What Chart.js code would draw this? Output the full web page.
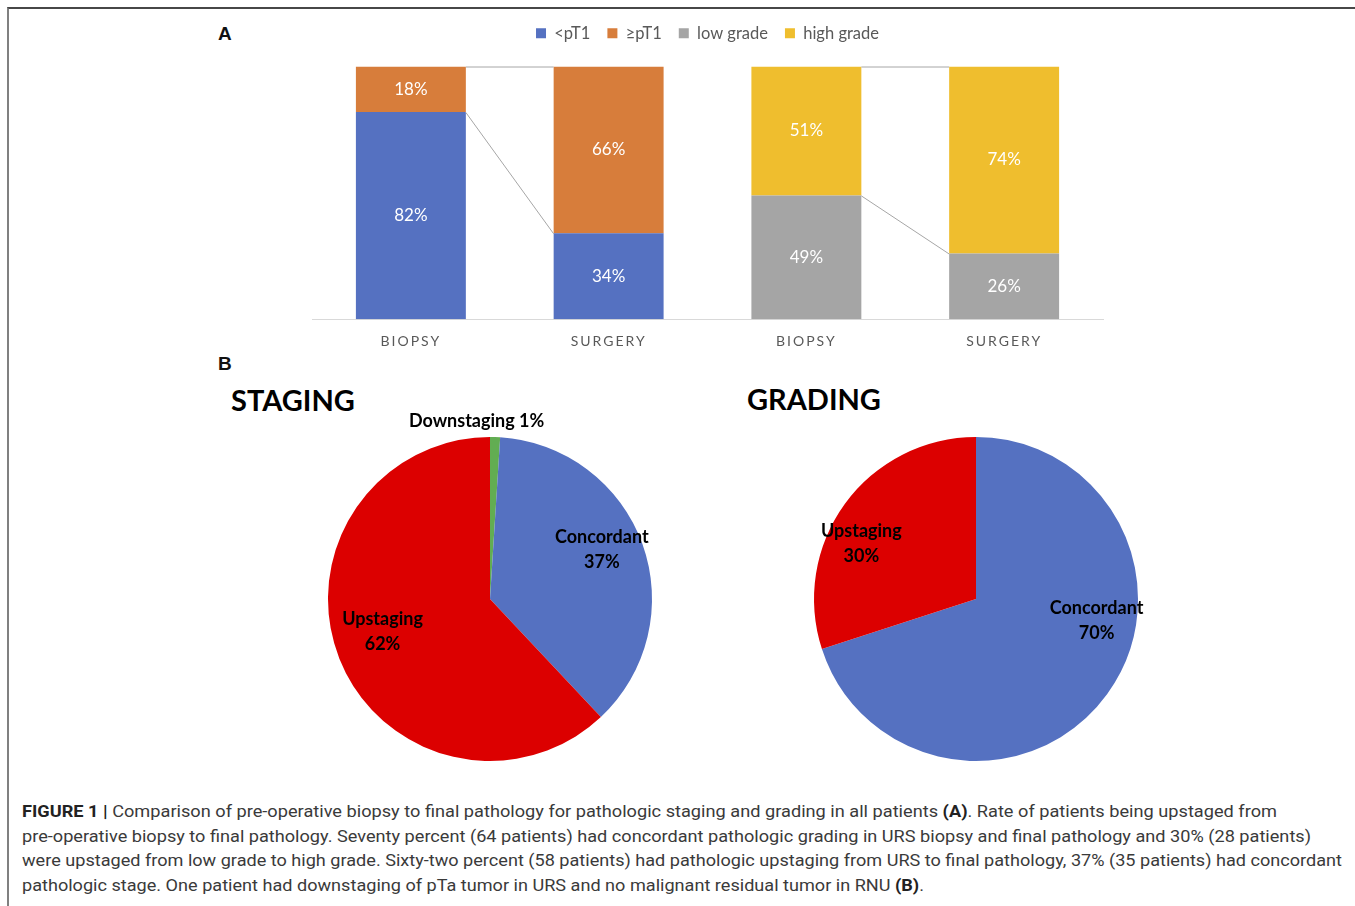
<!DOCTYPE html>
<html>
<head>
<meta charset="utf-8">
<title>Figure 1</title>
<script src="https://cdn.jsdelivr.net/npm/chart.js@4.4.1/dist/chart.umd.min.js"></script>
<style>
  html, body { margin: 0; padding: 0; background: #fff; }
  body { width: 1355px; height: 906px; position: relative; overflow: hidden; font-family: Lato, "Open Sans", sans-serif; }
  .frame { position: absolute; left: 7px; top: 7px; width: 1360px; height: 910px;
           border-top: 2px solid #474747; border-left: 2px solid #808080; }
  canvas { position: absolute; }
  .panel { position: absolute; font-family: "Liberation Sans", Arial, sans-serif; font-weight: bold;
           font-size: 19px; line-height: 1; color: #111; }
  .title { position: absolute; font-family: Lato, sans-serif; font-weight: bold; font-size: 29px;
           line-height: 1; color: #000; }
  .cap { position: absolute; left: 22px; white-space: nowrap;
         font-family: "Liberation Sans Narrow", Roboto, "Liberation Sans", sans-serif;
         font-weight: normal; font-size: 17px; line-height: 1; color: #3a3a3a; transform-origin: 0 50%; }
  .cap b { font-weight: bold; color: #222; }
</style>
</head>
<body>
<div class="frame"></div>

<div class="panel" style="left:218px; top:24px;">A</div>
<div class="panel" style="left:218px; top:354px;">B</div>
<div class="title" style="left:231px; top:385px;">STAGING</div>
<div class="title" style="left:747px; top:384px;">GRADING</div>

<canvas id="bars" width="815" height="366" style="left:300px; top:8px;"></canvas>
<canvas id="staging" width="400" height="400" style="left:290px; top:399px;"></canvas>
<canvas id="grading" width="400" height="400" style="left:776px; top:399px;"></canvas>

<div class="cap" data-w="1255" style="top:803px;"><b>FIGURE 1 |</b> Comparison of pre-operative biopsy to final pathology for pathologic staging and grading in all patients <b>(A)</b>. Rate of patients being upstaged from</div>
<div class="cap" data-w="1289" style="top:828px;">pre-operative biopsy to final pathology. Seventy percent (64 patients) had concordant pathologic grading in URS biopsy and final pathology and 30% (28 patients)</div>
<div class="cap" data-w="1320" style="top:852px;">were upstaged from low grade to high grade. Sixty-two percent (58 patients) had pathologic upstaging from URS to final pathology, 37% (35 patients) had concordant</div>
<div class="cap" data-w="902" style="top:877px;">pathologic stage. One patient had downstaging of pTa tumor in URS and no malignant residual tumor in RNU <b>(B)</b>.</div>

<script>
// ---- Panel A: biopsy vs. surgery, percent of patients ----
const categories = ['BIOPSY', 'SURGERY', 'BIOPSY', 'SURGERY'];
const seriesNames = ['<pT1', '≥pT1', 'low grade', 'high grade'];
const belowPT1 = [82, 34, null, null];
const atLeastPT1 = [18, 66, null, null];
const lowGrade = [null, null, 49, 26];
const highGrade = [null, null, 51, 74];

// ---- Panel B: concordance of biopsy and final pathology ----
const stagingLabels = ['Downstaging', 'Concordant', 'Upstaging'];
const stagingValues = [1, 37, 62];
const gradingLabels = ['Concordant', 'Upstaging'];
const gradingValues = [70, 30];

const COLORS = {
  blue: '#5571C1', orange: '#D77D3B', gray: '#A5A5A5', yellow: '#EFBE2E',
  red: '#DC0000', green: '#62AD52'
};
const FONT = 'Lato, "Open Sans", sans-serif';

// Category axis with letter-spaced tick labels
class SpacedCategoryScale extends Chart.CategoryScale {
  drawLabels(chartArea) {
    const ctx = this.ctx;
    ctx.save();
    ctx.letterSpacing = '2px';
    super.drawLabels(chartArea);
    ctx.restore();
  }
}
SpacedCategoryScale.id = 'spacedCategory';
SpacedCategoryScale.defaults = Chart.CategoryScale.defaults;
Chart.register(SpacedCategoryScale);

// Extra room between the legend and the plot area
const legendGap = {
  id: 'legendGap',
  beforeInit(chart, args, opts) {
    const legend = chart.legend;
    const fit = legend.fit;
    legend.fit = function () { fit.call(this); this.height += opts.gap; };
  }
};

// Value labels inside each bar segment, plus series lines between paired bars
const barDecor = {
  id: 'barDecor',
  afterDatasetsDraw(chart) {
    const ctx = chart.ctx;
    ctx.save();
    // series lines
    ctx.strokeStyle = '#A6A6A6';
    ctx.lineWidth = 1;
    chart.data.datasets.forEach((ds, di) => {
      const els = chart.getDatasetMeta(di).data;
      for (let i = 0; i + 1 < ds.data.length; i += 2) {
        if (ds.data[i] == null || ds.data[i + 1] == null) continue;
        const a = els[i], b = els[i + 1];
        ctx.beginPath();
        ctx.moveTo(a.x + a.width / 2, a.y + 0.5);
        ctx.lineTo(b.x - b.width / 2, b.y + 0.5);
        ctx.stroke();
      }
    });
    // labels
    ctx.fillStyle = '#FFFFFF';
    ctx.font = '17px ' + FONT;
    ctx.textAlign = 'center';
    ctx.textBaseline = 'middle';
    chart.data.datasets.forEach((ds, di) => {
      chart.getDatasetMeta(di).data.forEach((el, i) => {
        const v = ds.data[i];
        if (v == null) return;
        ctx.fillText(v + '%', el.x, (el.y + el.base) / 2);
      });
    });
    ctx.restore();
  }
};

new Chart(document.getElementById('bars'), {
  type: 'bar',
  data: {
    labels: categories,
    datasets: [
      { label: seriesNames[0], data: belowPT1, backgroundColor: COLORS.blue },
      { label: seriesNames[1], data: atLeastPT1, backgroundColor: COLORS.orange },
      { label: seriesNames[2], data: lowGrade, backgroundColor: COLORS.gray },
      { label: seriesNames[3], data: highGrade, backgroundColor: COLORS.yellow }
    ]
  },
  options: {
    responsive: false,
    animation: false,
    events: [],
    layout: { padding: { left: 12, right: 12, top: 0, bottom: 10 } },
    datasets: { bar: { categoryPercentage: 1, barPercentage: 0.556, borderWidth: 0 } },
    scales: {
      x: {
        type: 'spacedCategory',
        stacked: true,
        grid: { display: false, drawTicks: false },
        border: { display: true, color: '#D9D9D9', width: 1 },
        ticks: { color: '#595959', font: { family: FONT, size: 14 }, padding: 14 }
      },
      y: { stacked: true, display: false, min: 0, max: 100 }
    },
    plugins: {
      legend: {
        position: 'top',
        labels: { boxWidth: 10, boxHeight: 10, padding: 17, color: '#595959',
                  font: { family: FONT, size: 16.5 } }
      },
      tooltip: { enabled: false },
      legendGap: { gap: 15 }
    }
  },
  plugins: [legendGap, barDecor]
});

// Slice labels: placed along each slice's middle angle, nudged by a pixel offset
const sliceLabels = {
  id: 'sliceLabels',
  afterDatasetsDraw(chart, args, opts) {
    const ctx = chart.ctx;
    const ds = chart.data.datasets[0];
    ctx.save();
    ctx.fillStyle = '#000';
    ctx.font = 'bold 18px ' + FONT;
    ctx.textAlign = 'center';
    ctx.textBaseline = 'middle';
    chart.getDatasetMeta(0).data.forEach((arc, i) => {
      const mid = (arc.startAngle + arc.endAngle) / 2;
      const r = arc.outerRadius * opts.radius[i];
      const x = arc.x + Math.cos(mid) * r + opts.offset[i][0];
      const y = arc.y + Math.sin(mid) * r + opts.offset[i][1];
      const name = chart.data.labels[i];
      const pct = ds.data[i] + '%';
      if (opts.inline[i]) {
        ctx.fillText(name + ' ' + pct, x, y);
      } else {
        ctx.fillText(name, x, y - 12.5);
        ctx.fillText(pct, x, y + 12.5);
      }
    });
    ctx.restore();
  }
};

function pieChart(id, labels, values, colors, labelOpts) {
  return new Chart(document.getElementById(id), {
    type: 'pie',
    data: { labels, datasets: [{ data: values, backgroundColor: colors, borderWidth: 0 }] },
    options: {
      responsive: false,
      animation: false,
      events: [],
      layout: { padding: 38 },
      plugins: { legend: { display: false }, tooltip: { enabled: false }, sliceLabels: labelOpts }
    },
    plugins: [sliceLabels]
  });
}

pieChart('staging', stagingLabels, stagingValues, [COLORS.green, COLORS.blue, COLORS.red], {
  radius: [1.1, 0.76, 0.76],
  offset: [[-19, 0], [-4, -8], [7, -13]],
  inline: [true, false, false]
});

pieChart('grading', gradingLabels, gradingValues, [COLORS.blue, COLORS.red], {
  radius: [0.76, 0.76],
  offset: [[21, -51], [-15, 17]],
  inline: [false, false]
});

// Caption lines are set to their column widths
document.querySelectorAll('.cap').forEach(el => {
  el.style.display = 'inline-block';
  const w = el.getBoundingClientRect().width;
  el.style.transform = 'scaleX(' + (Number(el.dataset.w) / w) + ')';
});
</script>
</body>
</html>
